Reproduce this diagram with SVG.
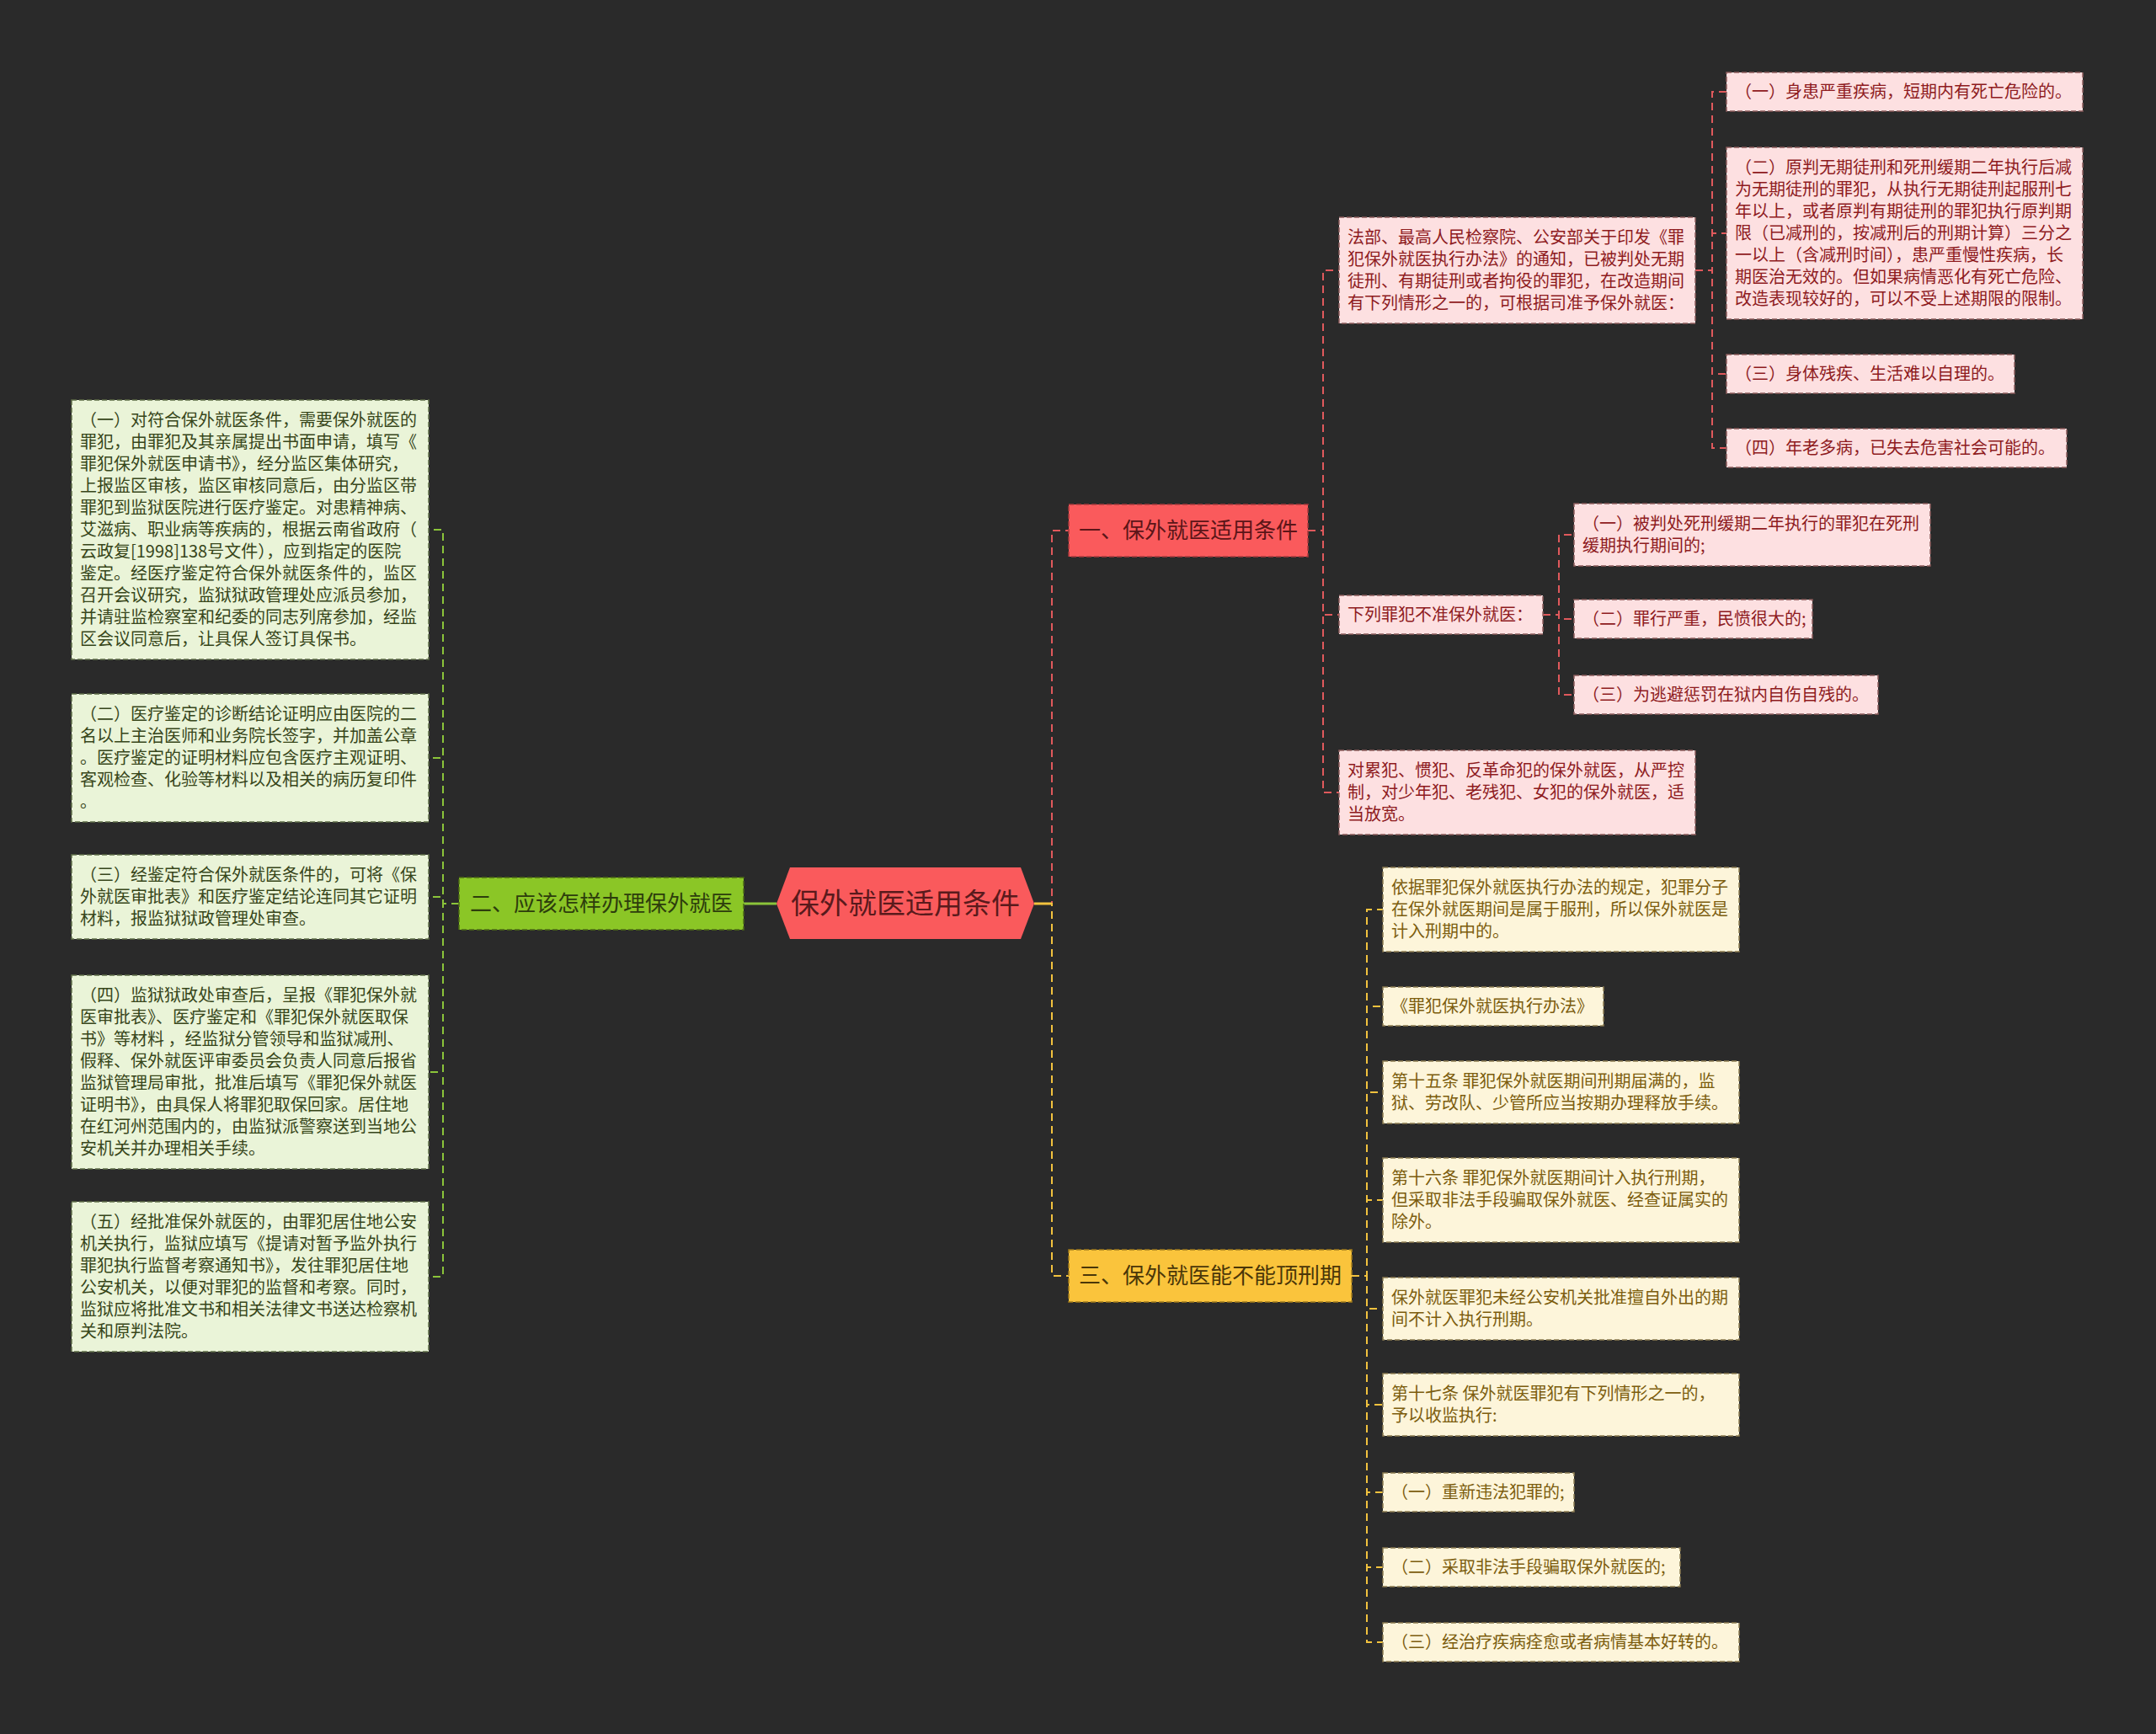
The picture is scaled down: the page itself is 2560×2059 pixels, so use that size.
<svg xmlns="http://www.w3.org/2000/svg" width="2560" height="2059" viewBox="0 0 2560 2059">
<style>
text{font-family:"Noto Sans CJK SC","Noto Sans CJK JP",sans-serif;}
.t{font-size:20px;}
.lg{fill:#eaf4d8;stroke:#5f6e48;stroke-width:1.5;stroke-dasharray:6 3;}
.lp{fill:#fde0e1;stroke:#8c5c5c;stroke-width:1.5;stroke-dasharray:6 3;}
.ly{fill:#fdf5da;stroke:#8c7c52;stroke-width:1.5;stroke-dasharray:6 3;}
.tg{fill:#37461a;}
.tp{fill:#8e1b1e;}
.ty{fill:#7c5d0e;}
.c{fill:none;stroke-width:2;stroke-dasharray:9 6;}
.cr{stroke:#e0595c;}
.cg{stroke:#8bc43a;}
.cy{stroke:#f2c23e;}
</style>
<rect x="0" y="0" width="2560" height="2059" fill="#2a2a2a"/>
<g id="connectors">
<path class="c cg" d="M545,1073 H526 V629 H509"/>
<path class="c cg" d="M545,1073 H526 V900 H509"/>
<path class="c cg" d="M545,1073 H526 V1065 H509"/>
<path class="c cg" d="M545,1073 H526 V1273 H509"/>
<path class="c cg" d="M545,1073 H526 V1516 H509"/>
<path fill="none" stroke="#8bc43a" stroke-width="3" d="M922,1073 H883"/>
<path class="c cr" d="M1228,1073 H1249 V630 H1269"/>
<path class="c cy" d="M1228,1073 H1249 V1515 H1269"/>
<path fill="none" stroke="#f2c23e" stroke-width="3" d="M1228,1073 H1249"/>
<path class="c cr" d="M1553,630 H1571 V321 H1590"/>
<path class="c cr" d="M1553,630 H1571 V730 H1590"/>
<path class="c cr" d="M1553,630 H1571 V941 H1590"/>
<path class="c cr" d="M2013,321 H2033 V109 H2050"/>
<path class="c cr" d="M2013,321 H2033 V277 H2050"/>
<path class="c cr" d="M2013,321 H2033 V444 H2050"/>
<path class="c cr" d="M2013,321 H2033 V532 H2050"/>
<path class="c cr" d="M1832,730 H1851 V635 H1869"/>
<path class="c cr" d="M1832,730 H1851 V735 H1869"/>
<path class="c cr" d="M1832,730 H1851 V825 H1869"/>
<path class="c cy" d="M1605,1515 H1623 V1080 H1642"/>
<path class="c cy" d="M1605,1515 H1623 V1195 H1642"/>
<path class="c cy" d="M1605,1515 H1623 V1297 H1642"/>
<path class="c cy" d="M1605,1515 H1623 V1425 H1642"/>
<path class="c cy" d="M1605,1515 H1623 V1554 H1642"/>
<path class="c cy" d="M1605,1515 H1623 V1668 H1642"/>
<path class="c cy" d="M1605,1515 H1623 V1772 H1642"/>
<path class="c cy" d="M1605,1515 H1623 V1861 H1642"/>
<path class="c cy" d="M1605,1515 H1623 V1950 H1642"/>
</g>
<g id="root">
<polygon points="922,1073 938,1030 1212,1030 1228,1073 1212,1115 938,1115" fill="#fa5a5c"/>
<text x="1075" y="1085" font-size="34" fill="#5a1a1c" text-anchor="middle">保外就医适用条件</text>
</g>
<g id="b1">
<rect x="1269" y="599" width="284" height="62" fill="#fa5a5c" stroke="#a83a3c" stroke-width="1.5" stroke-dasharray="6 3"/>
<text x="1411" y="639" font-size="26" fill="#5c1518" text-anchor="middle">一、保外就医适用条件</text>
</g>
<g id="b2">
<rect x="545" y="1042" width="338" height="62" fill="#8bc626" stroke="#4d6b16" stroke-width="1.5" stroke-dasharray="6 3"/>
<text x="714" y="1082" font-size="26" fill="#2d3d0c" text-anchor="middle">二、应该怎样办理保外就医</text>
</g>
<g id="b3">
<rect x="1269" y="1484" width="336" height="62" fill="#fac43c" stroke="#a37c1c" stroke-width="1.5" stroke-dasharray="6 3"/>
<text x="1437" y="1524" font-size="26" fill="#4a3608" text-anchor="middle">三、保外就医能不能顶刑期</text>
</g>
<g id="l1">
<rect class="lg" x="85" y="475" width="424" height="308"/>
<text class="t tg" y="506"><tspan x="95">（一）对符合保外就医条件，需要保外就医的</tspan><tspan x="95" dy="26">罪犯，由罪犯及其亲属提出书面申请，填写《</tspan><tspan x="95" dy="26">罪犯保外就医申请书》，经分监区集体研究，</tspan><tspan x="95" dy="26">上报监区审核，监区审核同意后，由分监区带</tspan><tspan x="95" dy="26">罪犯到监狱医院进行医疗鉴定。对患精神病、</tspan><tspan x="95" dy="26">艾滋病、职业病等疾病的，根据云南省政府（</tspan><tspan x="95" dy="26">云政复[1998]138号文件），应到指定的医院</tspan><tspan x="95" dy="26">鉴定。经医疗鉴定符合保外就医条件的，监区</tspan><tspan x="95" dy="26">召开会议研究，监狱狱政管理处应派员参加，</tspan><tspan x="95" dy="26">并请驻监检察室和纪委的同志列席参加，经监</tspan><tspan x="95" dy="26">区会议同意后，让具保人签订具保书。</tspan></text>
</g>
<g id="l2">
<rect class="lg" x="85" y="824" width="424" height="152"/>
<text class="t tg" y="855"><tspan x="95">（二）医疗鉴定的诊断结论证明应由医院的二</tspan><tspan x="95" dy="26">名以上主治医师和业务院长签字，并加盖公章</tspan><tspan x="95" dy="26">。医疗鉴定的证明材料应包含医疗主观证明、</tspan><tspan x="95" dy="26">客观检查、化验等材料以及相关的病历复印件</tspan><tspan x="95" dy="26">。</tspan></text>
</g>
<g id="l3">
<rect class="lg" x="85" y="1015" width="424" height="100"/>
<text class="t tg" y="1046"><tspan x="95">（三）经鉴定符合保外就医条件的，可将《保</tspan><tspan x="95" dy="26">外就医审批表》和医疗鉴定结论连同其它证明</tspan><tspan x="95" dy="26">材料，报监狱狱政管理处审查。</tspan></text>
</g>
<g id="l4">
<rect class="lg" x="85" y="1158" width="424" height="230"/>
<text class="t tg" y="1189"><tspan x="95">（四）监狱狱政处审查后，呈报《罪犯保外就</tspan><tspan x="95" dy="26">医审批表》、医疗鉴定和《罪犯保外就医取保</tspan><tspan x="95" dy="26">书》等材料 ，经监狱分管领导和监狱减刑、</tspan><tspan x="95" dy="26">假释、保外就医评审委员会负责人同意后报省</tspan><tspan x="95" dy="26">监狱管理局审批，批准后填写《罪犯保外就医</tspan><tspan x="95" dy="26">证明书》，由具保人将罪犯取保回家。居住地</tspan><tspan x="95" dy="26">在红河州范围内的，由监狱派警察送到当地公</tspan><tspan x="95" dy="26">安机关并办理相关手续。</tspan></text>
</g>
<g id="l5">
<rect class="lg" x="85" y="1427" width="424" height="178"/>
<text class="t tg" y="1458"><tspan x="95">（五）经批准保外就医的，由罪犯居住地公安</tspan><tspan x="95" dy="26">机关执行，监狱应填写《提请对暂予监外执行</tspan><tspan x="95" dy="26">罪犯执行监督考察通知书》，发往罪犯居住地</tspan><tspan x="95" dy="26">公安机关，以便对罪犯的监督和考察。同时，</tspan><tspan x="95" dy="26">监狱应将批准文书和相关法律文书送达检察机</tspan><tspan x="95" dy="26">关和原判法院。</tspan></text>
</g>
<g id="c1">
<rect class="lp" x="1590" y="258" width="423" height="126"/>
<text class="t tp" y="289"><tspan x="1600">法部、最高人民检察院、公安部关于印发《罪</tspan><tspan x="1600" dy="26">犯保外就医执行办法》的通知，已被判处无期</tspan><tspan x="1600" dy="26">徒刑、有期徒刑或者拘役的罪犯，在改造期间</tspan><tspan x="1600" dy="26">有下列情形之一的，可根据司准予保外就医：</tspan></text>
</g>
<g id="c2">
<rect class="lp" x="1590" y="707" width="242" height="46"/>
<text class="t tp" x="1600" y="737">下列罪犯不准保外就医：</text>
</g>
<g id="c3">
<rect class="lp" x="1590" y="891" width="423" height="100"/>
<text class="t tp" y="922"><tspan x="1600">对累犯、惯犯、反革命犯的保外就医，从严控</tspan><tspan x="1600" dy="26">制，对少年犯、老残犯、女犯的保外就医，适</tspan><tspan x="1600" dy="26">当放宽。</tspan></text>
</g>
<g id="d1">
<rect class="lp" x="2050" y="86" width="423" height="46"/>
<text class="t tp" x="2060" y="116">（一）身患严重疾病，短期内有死亡危险的。</text>
</g>
<g id="d2">
<rect class="lp" x="2050" y="175" width="423" height="204"/>
<text class="t tp" y="206"><tspan x="2060">（二）原判无期徒刑和死刑缓期二年执行后减</tspan><tspan x="2060" dy="26">为无期徒刑的罪犯，从执行无期徒刑起服刑七</tspan><tspan x="2060" dy="26">年以上，或者原判有期徒刑的罪犯执行原判期</tspan><tspan x="2060" dy="26">限（已减刑的，按减刑后的刑期计算）三分之</tspan><tspan x="2060" dy="26">一以上（含减刑时间），患严重慢性疾病，长</tspan><tspan x="2060" dy="26">期医治无效的。但如果病情恶化有死亡危险、</tspan><tspan x="2060" dy="26">改造表现较好的，可以不受上述期限的限制。</tspan></text>
</g>
<g id="d3">
<rect class="lp" x="2050" y="421" width="342" height="46"/>
<text class="t tp" x="2060" y="451">（三）身体残疾、生活难以自理的。</text>
</g>
<g id="d4">
<rect class="lp" x="2050" y="509" width="404" height="46"/>
<text class="t tp" x="2060" y="539">（四）年老多病，已失去危害社会可能的。</text>
</g>
<g id="e1">
<rect class="lp" x="1869" y="598" width="423" height="74"/>
<text class="t tp" y="629"><tspan x="1879">（一）被判处死刑缓期二年执行的罪犯在死刑</tspan><tspan x="1879" dy="26">缓期执行期间的;</tspan></text>
</g>
<g id="e2">
<rect class="lp" x="1869" y="712" width="283" height="46"/>
<text class="t tp" x="1879" y="742">（二）罪行严重，民愤很大的;</text>
</g>
<g id="e3">
<rect class="lp" x="1869" y="802" width="361" height="46"/>
<text class="t tp" x="1879" y="832">（三）为逃避惩罚在狱内自伤自残的。</text>
</g>
<g id="f1">
<rect class="ly" x="1642" y="1030" width="423" height="100"/>
<text class="t ty" y="1061"><tspan x="1652">依据罪犯保外就医执行办法的规定，犯罪分子</tspan><tspan x="1652" dy="26">在保外就医期间是属于服刑，所以保外就医是</tspan><tspan x="1652" dy="26">计入刑期中的。</tspan></text>
</g>
<g id="f2">
<rect class="ly" x="1642" y="1172" width="262" height="46"/>
<text class="t ty" x="1652" y="1202">《罪犯保外就医执行办法》</text>
</g>
<g id="f3">
<rect class="ly" x="1642" y="1260" width="423" height="74"/>
<text class="t ty" y="1291"><tspan x="1652">第十五条 罪犯保外就医期间刑期届满的，监</tspan><tspan x="1652" dy="26">狱、劳改队、少管所应当按期办理释放手续。</tspan></text>
</g>
<g id="f4">
<rect class="ly" x="1642" y="1375" width="423" height="100"/>
<text class="t ty" y="1406"><tspan x="1652">第十六条 罪犯保外就医期间计入执行刑期，</tspan><tspan x="1652" dy="26">但采取非法手段骗取保外就医、经查证属实的</tspan><tspan x="1652" dy="26">除外。</tspan></text>
</g>
<g id="f5">
<rect class="ly" x="1642" y="1517" width="423" height="74"/>
<text class="t ty" y="1548"><tspan x="1652">保外就医罪犯未经公安机关批准擅自外出的期</tspan><tspan x="1652" dy="26">间不计入执行刑期。</tspan></text>
</g>
<g id="f6">
<rect class="ly" x="1642" y="1631" width="423" height="74"/>
<text class="t ty" y="1662"><tspan x="1652">第十七条 保外就医罪犯有下列情形之一的，</tspan><tspan x="1652" dy="26">予以收监执行:</tspan></text>
</g>
<g id="f7">
<rect class="ly" x="1642" y="1749" width="227" height="46"/>
<text class="t ty" x="1652" y="1779">（一）重新违法犯罪的;</text>
</g>
<g id="f8">
<rect class="ly" x="1642" y="1838" width="353" height="46"/>
<text class="t ty" x="1652" y="1868">（二）采取非法手段骗取保外就医的;</text>
</g>
<g id="f9">
<rect class="ly" x="1642" y="1927" width="423" height="46"/>
<text class="t ty" x="1652" y="1957">（三）经治疗疾病痊愈或者病情基本好转的。</text>
</g>
</svg>
